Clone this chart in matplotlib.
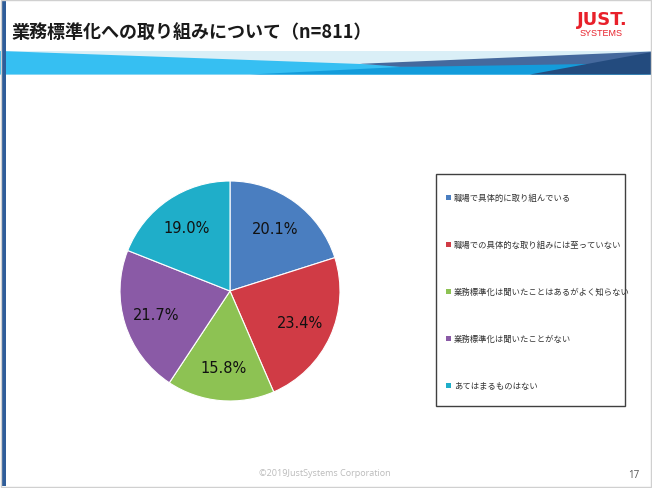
import matplotlib
matplotlib.use("Agg")
import matplotlib.pyplot as plt
from matplotlib.patches import Polygon, Rectangle

plt.rcParams['font.family'] = ['Noto Sans CJK JP', 'DejaVu Sans']

title = "業務標準化への取り組みについて（n=811）"
categories = [
    "職場で具体的に取り組んでいる",
    "職場での具体的な取り組みには至っていない",
    "業務標準化は聞いたことはあるがよく知らない",
    "業務標準化は聞いたことがない",
    "あてはまるものはない",
]
values = [20.1, 23.4, 15.8, 21.7, 19.0]
colors = ["#4A7EC0", "#D03B45", "#8DC253", "#8A5AA6", "#1FAEC9"]
footer = "©2019JustSystems Corporation"
page = "17"

W, H = 652, 489
fig = plt.figure(figsize=(W / 100, H / 100), dpi=100)

bg = fig.add_axes([0, 0, 1, 1])
bg.set_xlim(0, W)
bg.set_ylim(H, 0)
bg.axis("off")

# banner
bg.add_patch(Rectangle((0, 52), W, 23.5, color="#DAEFF7", lw=0))
bg.add_patch(Polygon([(0, 52), (W, 75.5), (0, 75.5)], closed=True, color="#36BFF2", lw=0))
bg.add_patch(Polygon([(360, 64.8), (W, 52.5), (W, 70), (400, 67.8)], closed=True, color="#45699D", lw=0))
bg.add_patch(Polygon([(250, 75.5), (400, 68), (W, 64), (W, 75.5)], closed=True, color="#139CDB", lw=0))
bg.add_patch(Polygon([(530, 75.5), (W, 53), (W, 75.5)], closed=True, color="#234B7E", lw=0))

# left bar and frame
bg.add_patch(Rectangle((2, 0), 4, 487, color="#2F5D99", lw=0))
bg.add_patch(Rectangle((0.5, 0.5), W - 1.5, H - 2, fill=False, ec="#D0D0D0", lw=1))

# title
bg.text(12, 33, title, fontsize=13, fontweight="bold", color="#1A1A1A",
        va="center", ha="left")

# logo
bg.text(602, 20, "JUST.", fontsize=13, fontweight="bold", color="#E8202A",
        va="center", ha="center", family=["DejaVu Sans"])
bg.text(601, 34, "SYSTEMS", fontsize=6.5, color="#E8202A",
        va="center", ha="center", family=["Liberation Sans"])

# legend box
bg.add_patch(Rectangle((436, 175), 189, 232, fill=False, ec="#404040", lw=1))
ys = [198, 245, 292, 339, 386]
for y, c, lab in zip(ys, colors, categories):
    bg.add_patch(Rectangle((446, y - 2.5), 5, 5, color=c, lw=0))
    bg.text(454, y, lab, fontsize=6, color="#333333", va="center", ha="left")

# footer
bg.text(325, 473, footer, fontsize=6.5, color="#BBBBBB", va="center", ha="center",
        family=["Open Sans", "DejaVu Sans"])
bg.text(634, 475, page, fontsize=7, color="#555555", va="center", ha="center",
        family=["Open Sans", "DejaVu Sans"])

# pie
cx, cy, r = 230, 292, 110
ax = fig.add_axes([(cx - r) / W, (H - cy - r) / H, 2 * r / W, 2 * r / H])
wedges, texts, autotexts = ax.pie(values, colors=colors, startangle=90, counterclock=False,
       autopct=lambda p: f"{p:.1f}%", pctdistance=0.7,
       wedgeprops=dict(edgecolor="white", linewidth=0.8))
for t in autotexts:
    t.set_fontfamily("DejaVu Sans")
    t.set_fontsize(10.5)
    t.set_color("#111111")
ax.set_xlim(-1, 1)
ax.set_ylim(-1, 1)
ax.set_aspect("equal")
ax.axis("off")

fig.savefig("out.png", dpi=100)
